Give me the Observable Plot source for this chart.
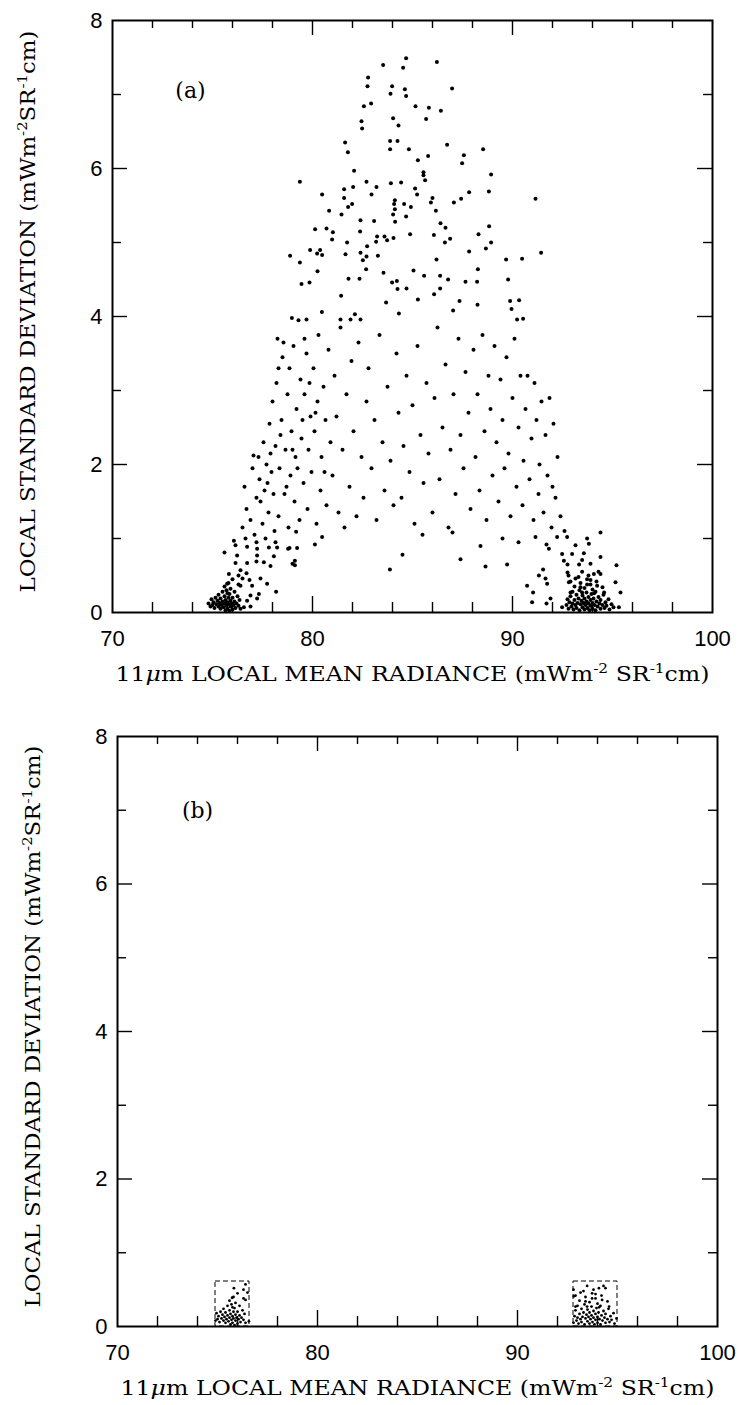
<!DOCTYPE html>
<html><head><meta charset="utf-8">
<script src="https://cdn.jsdelivr.net/npm/d3@7"></script>
<script src="https://cdn.jsdelivr.net/npm/@observablehq/plot@0.6"></script>
<style>
body{margin:0;background:#fff;width:747px;height:1405px;overflow:hidden}
#a,#b{display:block;line-height:0}
svg{display:block}
</style>
</head><body><div id="a"></div><div id="b"></div>
<script>
// ---- tick values ----
const xTickLabels = [70, 80, 90, 100];
const xMinorTicks = [72, 74, 76, 78, 82, 84, 86, 88, 92, 94, 96, 98];
const xMajorTicks = [80, 90];
const yTickLabels = [0, 2, 4, 6, 8];
const yMinorTicks = [1, 3, 5, 7];
const yMajorTicks = [2, 4, 6];

// ---- panel (a) points: [radiance, std dev] ----
const upperPoints = [
[84.68,7.49],[83.53,7.40],[84.53,7.36],[86.22,7.44],[82.78,7.23],[82.75,7.11],[83.98,7.11],[83.9,7.01],[84.62,7.07],[84.68,6.98],[86.98,7.08],[82.93,6.88],[82.57,6.84],[85.15,6.84],[85.82,6.82],[86.42,6.78],[85.68,6.67],[84.03,6.68],[82.45,6.64],[84.3,6.58],[82.48,6.54],[83.88,6.37],[84.25,6.37],[81.63,6.35],[86.73,6.32],[88.53,6.26],[83.88,6.26],[84.82,6.26],[81.77,6.22],[87.57,6.18],[85.78,6.17],[85.27,6.11],[87.48,6.07],[82.08,5.97],[85.55,5.95],[85.55,5.91],[88.93,5.92],[79.37,5.82],[82.7,5.82],[83.92,5.80],[84.43,5.81],[85.63,5.84],[81.58,5.72],[82.03,5.75],[83.2,5.75],[85.13,5.73],[87.83,5.68],[88.82,5.69],[91.15,5.59],[80.48,5.65],[81.58,5.60],[82.95,5.65],[85.23,5.65],[86.0,5.60],[87.07,5.54],[87.43,5.59],[84.12,5.57],[84.08,5.52],[85.92,5.54],[81.98,5.52],[81.78,5.48],[84.58,5.52],[84.92,5.48],[84.12,5.45],[80.83,5.43],[86.17,5.43],[81.45,5.38],[84.03,5.38],[84.68,5.35],[82.4,5.30],[83.08,5.29],[84.13,5.28],[86.4,5.26],[86.65,5.20],[88.83,5.22],[80.13,5.18],[80.7,5.19],[81.02,5.14],[82.38,5.15],[84.88,5.11],[86.07,5.10],[88.3,5.11],[80.98,5.04],[83.23,5.08],[83.6,5.08],[83.73,5.03],[84.05,5.06],[81.73,5.00],[83.18,5.01],[86.62,5.00],[86.88,5.05],[88.93,5.00],[82.73,4.95],[79.88,4.90],[80.38,4.90],[80.23,4.85],[80.48,4.83],[78.88,4.82],[81.65,4.84],[82.4,4.86],[82.7,4.81],[83.27,4.82],[87.83,4.88],[88.67,4.92],[91.43,4.86],[79.37,4.73],[82.52,4.76],[86.2,4.77],[89.68,4.77],[90.48,4.78],[80.25,4.61],[82.68,4.64],[83.55,4.59],[85.05,4.62],[85.58,4.55],[86.38,4.55],[88.27,4.64],[79.45,4.44],[79.85,4.46],[81.8,4.51],[82.35,4.51],[83.98,4.46],[84.22,4.48],[84.25,4.37],[84.7,4.38],[86.38,4.38],[86.78,4.50],[87.65,4.47],[88.23,4.47],[89.78,4.50],[81.43,4.28],[85.27,4.23],[86.08,4.30],[83.68,4.19],[87.35,4.21],[88.25,4.16],[89.88,4.21],[90.33,4.22],[89.95,4.10],[87.03,4.08],[80.47,4.06],[82.12,4.03],[84.32,4.04],[78.97,3.98],[79.7,3.96],[81.4,3.96],[81.9,3.96],[82.4,3.96],[90.23,3.96],[90.53,3.97]
];
const leftBranch = [
[76.5,1.15],[76.7,1.4],[76.6,1.7],[76.9,1.25],[77.0,1.95],[77.05,2.12],[77.2,1.55],[77.3,2.1],[77.35,1.8],[77.5,1.2],[77.55,2.3],[77.6,1.65],[77.7,2.0],[77.8,1.35],[77.85,2.55],[77.95,1.9],[78.0,2.85],[78.05,1.6],[78.15,2.25],[78.2,3.1],[78.25,3.7],[78.3,1.3],[78.35,1.95],[78.45,2.6],[78.5,3.45],[78.55,3.65],[78.6,1.6],[78.65,2.2],[78.75,2.95],[78.8,1.15],[78.85,3.3],[78.9,1.85],[78.95,2.45],[79.05,3.6],[79.1,1.5],[79.15,2.1],[79.2,2.75],[79.3,3.95],[79.35,1.25],[79.4,3.15],[79.45,2.35],[79.55,1.75],[79.6,2.95],[79.7,3.5],[79.75,1.4],[79.8,2.2],[79.9,2.65],[79.95,1.9],[80.05,3.3],[80.1,2.45],[80.2,1.2],[80.25,2.85],[80.3,3.75],[80.4,1.65],[80.45,2.1],[80.55,3.05],[80.65,2.6],[80.7,1.45],[80.8,3.55],[80.9,2.3],
[77.1,1.05],[77.4,1.5],[77.75,1.75],[78.1,1.1],[78.4,2.4],[78.7,1.7],[79.0,2.2],[79.25,1.95],[79.5,2.6],[79.85,3.1],[80.15,2.7],[80.6,1.9],[78.3,3.3],[79.6,3.7],[77.9,2.15]
];
const centerBand = [
[81.0,1.85],[81.1,3.2],[81.2,2.65],[81.3,1.35],[81.4,3.85],[81.5,2.2],[81.6,1.15],[81.7,2.95],[81.85,1.7],[81.95,3.4],[82.05,2.45],[82.2,1.3],[82.3,3.65],[82.45,2.1],[82.55,1.55],[82.7,2.85],[82.8,3.3],[82.95,1.95],[83.1,2.6],[83.2,1.25],[83.35,3.75],[83.5,2.3],[83.6,1.65],[83.75,3.05],[83.9,2.05],[84.05,1.45],[84.2,3.5],[84.3,2.7],[84.45,1.55],[84.55,2.25],[84.7,3.2],[84.85,1.9],[85.0,2.8],[85.1,1.2],[85.25,3.6],[85.4,2.4],[85.55,1.75],[85.7,3.1],[85.8,2.15],[86.0,1.35],[86.1,2.9],[86.25,3.85],[86.35,1.8],[86.5,2.5],[86.65,3.35],[86.8,1.15],[86.9,2.2],[87.05,2.95],[87.15,1.6],[87.3,3.7],[87.4,2.4],[87.55,1.95],[87.65,3.25],[87.8,2.7],[87.9,1.4]
];
const rightBranch = [
[88.05,3.55],[88.15,2.1],[88.25,2.95],[88.35,1.65],[88.5,3.75],[88.6,2.45],[88.7,1.25],[88.8,3.2],[88.9,2.75],[89.0,1.85],[89.1,3.6],[89.2,2.3],[89.3,1.5],[89.4,3.15],[89.5,2.6],[89.6,1.95],[89.7,3.45],[89.8,2.15],[89.9,1.3],[90.0,2.9],[90.1,3.7],[90.2,1.7],[90.3,2.5],[90.4,3.2],[90.5,1.45],[90.55,2.05],[90.65,2.75],[90.75,3.2],[90.85,1.8],[90.95,2.35],[91.05,1.25],[91.1,3.1],[91.2,2.6],[91.3,1.6],[91.35,2.0],[91.45,2.85],[91.55,1.35],[91.65,2.4],[91.75,1.85],[91.85,2.9],[91.95,1.15],[92.05,2.55],[92.15,1.55],[92.25,2.1],[92.4,1.3],[92.6,1.1],[92.0,1.7]
];
const lowLeft = [
[79.18,1.09],[80.48,1.02],[80.12,0.92],[79.23,0.87],[78.78,0.86],[78.85,0.87],[76.07,0.97],[76.65,1.0],[77.2,0.95],[77.65,1.0],[78.15,0.95],[77.82,0.88],[78.23,0.88],[76.15,0.91],[76.73,0.89],[77.23,0.86],[75.6,0.81],[76.23,0.77],[77.23,0.77],[78.07,0.76],[76.15,0.67],[76.73,0.67],[77.2,0.69],[77.57,0.68],[79.12,0.70],[79.12,0.64],[77.9,0.63],[76.4,0.57],[75.82,0.52],[76.3,0.5],[76.5,0.46],[76.7,0.53],[76.85,0.44],[77.4,0.46],[77.73,0.39],[75.73,0.39],[76.4,0.36],[76.98,0.36],[78.18,0.28],[77.32,0.25],[76.9,0.23],[76.73,0.16],[77.23,0.19],[76.57,0.07],[76.9,0.08],[79.0,0.66],[83.87,0.58]
];
const lowRight = [
[91.15,1.02],[92.23,1.02],[92.73,1.02],[93.73,1.0],[94.4,1.08],[91.7,0.92],[93.15,0.91],[93.82,0.93],[91.82,0.86],[92.48,0.79],[92.98,0.79],[93.57,0.80],[94.4,0.75],[92.57,0.70],[93.48,0.71],[93.9,0.66],[95.2,0.64],[92.75,0.65],[93.33,0.65],[91.53,0.58],[92.75,0.54],[93.48,0.55],[94.07,0.52],[94.4,0.52],[91.32,0.50],[91.65,0.46],[92.8,0.5],[93.15,0.46],[93.73,0.45],[93.9,0.44],[91.73,0.39],[90.73,0.36],[92.82,0.41],[93.4,0.34],[93.73,0.38],[94.23,0.36],[95.15,0.41],[91.03,0.27],[92.9,0.27],[93.48,0.27],[95.4,0.27],[94.08,0.26],[94.58,0.27],[91.9,0.19],[90.98,0.14],[91.7,0.12],[92.48,0.07],[95.32,0.07],[88.65,0.62],[89.73,0.65],[90.3,0.95],[89.5,1.0],[88.4,0.9],[87.4,0.72],[84.5,0.78],[85.5,1.05],[87.0,1.08]
];
const clusterLeft = [
[74.8,0.12],[74.9,0.08],[74.95,0.18],[75.0,0.1],[75.05,0.14],[75.1,0.06],[75.15,0.2],[75.2,0.11],[75.25,0.16],[75.3,0.08],[75.3,0.24],[75.35,0.13],[75.4,0.05],[75.4,0.19],[75.45,0.1],[75.5,0.15],[75.5,0.28],[75.55,0.07],[75.6,0.12],[75.6,0.22],[75.65,0.03],[75.65,0.17],[75.7,0.09],[75.7,0.3],[75.75,0.14],[75.75,0.05],[75.8,0.2],[75.8,0.11],[75.85,0.02],[75.85,0.25],[75.9,0.08],[75.9,0.16],[75.95,0.12],[76.0,0.04],[76.0,0.2],[76.05,0.1],[76.1,0.15],[76.1,0.28],[76.15,0.06],[76.2,0.12],[76.25,0.22],[76.3,0.09],[76.35,0.17],[76.4,0.05],[75.6,0.35],[75.8,0.4],[76.0,0.45],[75.9,0.32],[76.3,0.38],[75.75,0.26]
];
const clusterRight = [
[92.7,0.1],[92.75,0.18],[92.8,0.05],[92.85,0.14],[92.9,0.22],[92.95,0.08],[93.0,0.12],[93.0,0.28],[93.05,0.04],[93.1,0.17],[93.15,0.1],[93.2,0.24],[93.2,0.06],[93.25,0.13],[93.3,0.19],[93.35,0.03],[93.35,0.3],[93.4,0.11],[93.45,0.16],[93.5,0.07],[93.5,0.23],[93.55,0.13],[93.6,0.04],[93.6,0.19],[93.65,0.1],[93.7,0.27],[93.7,0.15],[93.75,0.06],[93.8,0.12],[93.8,0.21],[93.85,0.03],[93.9,0.17],[93.9,0.09],[93.95,0.25],[94.0,0.13],[94.0,0.05],[94.05,0.19],[94.1,0.1],[94.15,0.28],[94.15,0.03],[94.2,0.15],[94.25,0.08],[94.3,0.21],[94.35,0.12],[94.4,0.05],[94.4,0.17],[94.5,0.1],[94.55,0.24],[94.6,0.06],[94.65,0.14],[94.7,0.09],[94.8,0.18],[94.85,0.04],[94.95,0.11],[95.05,0.07],[93.1,0.35],[93.4,0.4],[93.6,0.33],[93.9,0.38],[94.2,0.42],[94.5,0.34],[93.3,0.48],[93.8,0.5],[94.0,0.31],[92.9,0.42],[94.3,0.55]
];

// ---- panel (b): selection boxes (clear-sky regions) ----
const boxesB = [
  {x1: 74.9, x2: 76.6, y1: 0, y2: 0.61},
  {x1: 92.8, x2: 95.0, y1: 0, y2: 0.61}
];

const xTitle = "11μm LOCAL MEAN RADIANCE (mWm-2 SR-1cm)";
const yTitle = "LOCAL STANDARD DEVIATION (mWm-2SR-1cm)";

const pointsA = [...upperPoints, ...leftBranch, ...centerBand, ...rightBranch, ...lowLeft, ...lowRight, ...clusterLeft, ...clusterRight];
const pointsB = pointsA.filter(([x, y]) => boxesB.some(b => x >= b.x1 && x <= b.x2 && y >= b.y1 && y <= b.y2));

const serif = "'DejaVu Serif', 'Liberation Serif', serif";

function panel({data, letter, height, mt, mb, ml, mr, dotR, boxes, letterDx, letterDy}) {
  const plotH = height - mt - mb;
  const plotW = 747 - ml - mr;
  const marks = [
    Plot.frame({stroke: "black", strokeWidth: 2}),
    Plot.tickX(xMinorTicks, {x: d => d, insetTop: plotH - 10, strokeWidth: 1.4}),
    Plot.tickX(xMajorTicks, {x: d => d, insetTop: plotH - 16, strokeWidth: 1.4}),
    Plot.tickX(xMinorTicks, {x: d => d, insetBottom: plotH - 8, strokeWidth: 1.4}),
    Plot.tickX(xMajorTicks, {x: d => d, insetBottom: plotH - 15, strokeWidth: 1.4}),
    Plot.tickY(yMinorTicks, {y: d => d, insetRight: plotW - 9, strokeWidth: 1.4}),
    Plot.tickY(yMajorTicks, {y: d => d, insetRight: plotW - 15, strokeWidth: 1.4}),
    Plot.tickY(yMinorTicks, {y: d => d, insetLeft: plotW - 9, strokeWidth: 1.4}),
    Plot.tickY(yMajorTicks, {y: d => d, insetLeft: plotW - 15, strokeWidth: 1.4}),
    Plot.axisX({ticks: xTickLabels, tickSize: 0, tickPadding: 18, label: null, fontSize: 22}),
    Plot.axisY({ticks: yTickLabels, tickSize: 0, tickPadding: 10, label: null, fontSize: 22}),
  ];
  if (boxes) marks.push(Plot.rect(boxes, {x1: "x1", x2: "x2", y1: "y1", y2: "y2", fill: "none", stroke: "black", strokeWidth: 1, strokeDasharray: "5,3"}));
  marks.push(
    Plot.dot(data, {x: d => d[0], y: d => d[1], r: dotR, fill: "black", stroke: "none"}),
    Plot.text([letter], {text: d => d, frameAnchor: "top-left", dx: letterDx, dy: letterDy, textAnchor: "middle", fontFamily: serif, fontSize: 22}),
    Plot.text([xTitle], {text: d => d, frameAnchor: "bottom", dy: 68, textAnchor: "middle", fontFamily: serif, fontSize: 20, ariaLabel: "x-title"}),
    Plot.text([yTitle], {text: d => d, frameAnchor: "left", dx: -84, dy: -5, rotate: -90, textAnchor: "middle", fontFamily: serif, fontSize: 20, ariaLabel: "y-title"})
  );
  const svg = Plot.plot({
    width: 747, height,
    marginTop: mt, marginBottom: mb, marginLeft: ml, marginRight: mr,
    x: {domain: [70, 100]},
    y: {domain: [0, 8]},
    style: {fontFamily: "'Liberation Sans', Arial, sans-serif", fontSize: "22px", color: "black", background: "white"},
    marks
  });
  rich(svg, "x-title", [["11"], ["μ", "it"], ["m LOCAL MEAN RADIANCE (mWm"], ["-2", "sup"], [" SR"], ["-1", "sup"], ["cm)"]], 594);
  rich(svg, "y-title", [["LOCAL STANDARD DEVIATION (mWm"], ["-2", "sup"], ["SR"], ["-1", "sup"], ["cm)"]], 562);
  return svg;
}

function rich(svg, label, parts, len) {
  let el = svg.querySelector(`[aria-label="${label}"]`);
  if (!el) {
    const plain = parts.map(p => p[0]).join("");
    el = [...svg.querySelectorAll("text")].find(t => t.textContent === plain);
  }
  if (!el) return;
  if (el.tagName.toLowerCase() !== "text") el = el.querySelector("text");
  if (!el) return;
  const t = d3.select(el);
  t.text(null);
  let raised = false;
  for (const [s, kind] of parts) {
    const ts = t.append("tspan").text(s);
    if (kind === "sup") { ts.attr("dy", -8).attr("font-size", 13); raised = true; }
    else {
      if (raised) { ts.attr("dy", 8); raised = false; }
      if (kind === "it") ts.attr("font-style", "italic");
    }
  }
  t.attr("textLength", len).attr("lengthAdjust", "spacingAndGlyphs");
}

document.getElementById("a").append(panel({data: pointsA, letter: "(a)", height: 700, mt: 20, mb: 88, ml: 112, mr: 35, dotR: 2.0, letterDx: 78, letterDy: 62}));
document.getElementById("b").append(panel({data: pointsB, letter: "(b)", height: 705, mt: 36, mb: 79, ml: 117, mr: 30, dotR: 1.4, boxes: boxesB, letterDx: 80, letterDy: 66}));
</script>
</body></html>
